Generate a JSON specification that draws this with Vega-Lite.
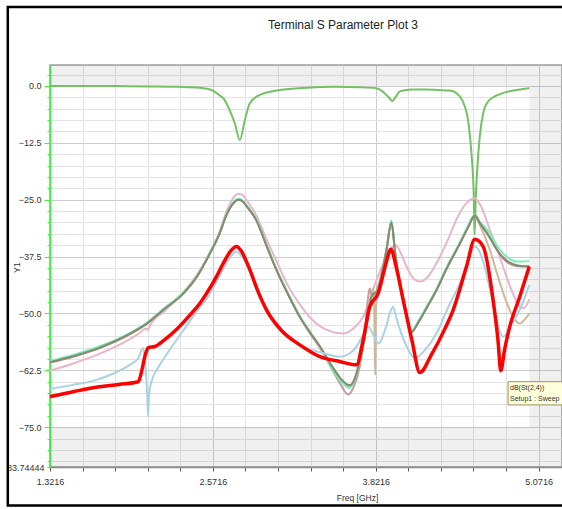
{
  "$schema": "https://vega.github.io/schema/vega-lite/v6.json",
  "width": 512,
  "height": 402,
  "autosize": {"type": "none"},
  "padding": {"left": 50, "top": 65, "right": 0, "bottom": 42},
  "background": "white",
  "title": {"text": "Terminal S Parameter Plot 3", "anchor": "middle", "dx": 37, "offset": -26, "font": "Liberation Sans", "fontSize": 12, "fontWeight": "normal", "color": "#222222"},
  "config": {
    "view": {"fill": "white", "stroke": "#a0a0a0", "strokeWidth": 1.5},
    "font": "Liberation Sans",
    "axis": {"labelOverlap": false, "tickCount": 200}
  },
  "datasets": {
    "curves": [
      {"s":"green","f":1.3216,"db":0.0},{"s":"green","f":1.6,"db":0.0},{"s":"green","f":1.9,"db":-0.05},{"s":"green","f":2.1,"db":-0.1},{"s":"green","f":2.3,"db":-0.2},{"s":"green","f":2.47,"db":-0.4},{"s":"green","f":2.57,"db":-1.0},{"s":"green","f":2.62,"db":-2.0},{"s":"green","f":2.66,"db":-3.0},{"s":"green","f":2.7,"db":-5.3},{"s":"green","f":2.74,"db":-8.2},{"s":"green","f":2.778,"db":-11.9},{"s":"green","f":2.817,"db":-7.5},{"s":"green","f":2.855,"db":-3.8},{"s":"green","f":2.93,"db":-2.0},{"s":"green","f":3.085,"db":-0.9},{"s":"green","f":3.3,"db":-0.4},{"s":"green","f":3.5,"db":-0.2},{"s":"green","f":3.7,"db":-0.3},{"s":"green","f":3.827,"db":-0.5},{"s":"green","f":3.89,"db":-1.6},{"s":"green","f":3.925,"db":-2.6},{"s":"green","f":3.95,"db":-3.3},{"s":"green","f":3.975,"db":-2.4},{"s":"green","f":4.006,"db":-1.2},{"s":"green","f":4.1,"db":-0.8},{"s":"green","f":4.2,"db":-0.8},{"s":"green","f":4.3,"db":-0.9},{"s":"green","f":4.39,"db":-1.0},{"s":"green","f":4.467,"db":-2.3},{"s":"green","f":4.505,"db":-4.5},{"s":"green","f":4.53,"db":-7.5},{"s":"green","f":4.556,"db":-14.8},{"s":"green","f":4.574,"db":-24.3},{"s":"green","f":4.58,"db":-32.7},{"s":"green","f":4.59,"db":-24.0},{"s":"green","f":4.6,"db":-18.5},{"s":"green","f":4.62,"db":-11.1},{"s":"green","f":4.646,"db":-6.0},{"s":"green","f":4.684,"db":-3.4},{"s":"green","f":4.774,"db":-1.8},{"s":"green","f":4.88,"db":-1.0},{"s":"green","f":5.0,"db":-0.5},

      {"s":"pink","f":1.3216,"db":-62.6},{"s":"pink","f":1.5,"db":-61.0},{"s":"pink","f":1.7,"db":-58.9},{"s":"pink","f":1.9,"db":-56.2},{"s":"pink","f":2.0,"db":-54.5},{"s":"pink","f":2.06,"db":-53.3},{"s":"pink","f":2.075,"db":-53.7},{"s":"pink","f":2.09,"db":-52.6},{"s":"pink","f":2.2,"db":-49.5},{"s":"pink","f":2.343,"db":-45.4},{"s":"pink","f":2.45,"db":-41.5},{"s":"pink","f":2.548,"db":-36.6},{"s":"pink","f":2.62,"db":-32.3},{"s":"pink","f":2.676,"db":-27.6},{"s":"pink","f":2.72,"db":-25.0},{"s":"pink","f":2.75,"db":-23.9},{"s":"pink","f":2.773,"db":-23.7},{"s":"pink","f":2.8,"db":-24.0},{"s":"pink","f":2.84,"db":-25.5},{"s":"pink","f":2.906,"db":-28.5},{"s":"pink","f":2.98,"db":-33.5},{"s":"pink","f":3.06,"db":-38.5},{"s":"pink","f":3.15,"db":-44.0},{"s":"pink","f":3.239,"db":-48.0},{"s":"pink","f":3.32,"db":-51.0},{"s":"pink","f":3.393,"db":-52.8},{"s":"pink","f":3.48,"db":-54.0},{"s":"pink","f":3.571,"db":-54.4},{"s":"pink","f":3.65,"db":-53.3},{"s":"pink","f":3.725,"db":-50.7},{"s":"pink","f":3.77,"db":-47.5},{"s":"pink","f":3.801,"db":-44.8},{"s":"pink","f":3.85,"db":-41.0},{"s":"pink","f":3.9,"db":-37.8},{"s":"pink","f":3.94,"db":-35.7},{"s":"pink","f":3.975,"db":-35.0},{"s":"pink","f":4.01,"db":-36.5},{"s":"pink","f":4.06,"db":-39.8},{"s":"pink","f":4.11,"db":-42.3},{"s":"pink","f":4.16,"db":-43.0},{"s":"pink","f":4.22,"db":-42.0},{"s":"pink","f":4.3,"db":-38.3},{"s":"pink","f":4.38,"db":-33.5},{"s":"pink","f":4.45,"db":-28.8},{"s":"pink","f":4.52,"db":-25.7},{"s":"pink","f":4.58,"db":-24.7},{"s":"pink","f":4.63,"db":-26.5},{"s":"pink","f":4.697,"db":-31.6},{"s":"pink","f":4.76,"db":-36.5},{"s":"pink","f":4.825,"db":-41.9},{"s":"pink","f":4.88,"db":-46.0},{"s":"pink","f":4.927,"db":-48.5},{"s":"pink","f":4.96,"db":-48.8},{"s":"pink","f":5.0,"db":-46.9},

      {"s":"tan","f":1.3216,"db":-60.6},{"s":"tan","f":1.5,"db":-59.3},{"s":"tan","f":1.704,"db":-57.4},{"s":"tan","f":1.934,"db":-54.4},{"s":"tan","f":2.062,"db":-52.2},{"s":"tan","f":2.2,"db":-48.9},{"s":"tan","f":2.343,"db":-45.6},{"s":"tan","f":2.45,"db":-41.8},{"s":"tan","f":2.548,"db":-36.8},{"s":"tan","f":2.62,"db":-32.6},{"s":"tan","f":2.676,"db":-28.3},{"s":"tan","f":2.72,"db":-26.0},{"s":"tan","f":2.75,"db":-25.1},{"s":"tan","f":2.773,"db":-24.9},{"s":"tan","f":2.8,"db":-25.3},{"s":"tan","f":2.84,"db":-26.7},{"s":"tan","f":2.906,"db":-29.5},{"s":"tan","f":2.98,"db":-34.8},{"s":"tan","f":3.06,"db":-40.4},{"s":"tan","f":3.15,"db":-45.8},{"s":"tan","f":3.239,"db":-50.7},{"s":"tan","f":3.32,"db":-54.3},{"s":"tan","f":3.393,"db":-57.3},{"s":"tan","f":3.48,"db":-61.5},{"s":"tan","f":3.55,"db":-64.5},{"s":"tan","f":3.622,"db":-66.2},{"s":"tan","f":3.66,"db":-64.5},{"s":"tan","f":3.7,"db":-60.5},{"s":"tan","f":3.725,"db":-57.3},{"s":"tan","f":3.76,"db":-51.0},{"s":"tan","f":3.789,"db":-46.3},{"s":"tan","f":3.803,"db":-44.4},{"s":"tan","f":3.811,"db":-50.0},{"s":"tan","f":3.817,"db":-63.5},{"s":"tan","f":3.823,"db":-50.0},{"s":"tan","f":3.832,"db":-45.5},{"s":"tan","f":3.86,"db":-42.3},{"s":"tan","f":3.88,"db":-39.5},{"s":"tan","f":3.904,"db":-36.0},{"s":"tan","f":3.942,"db":-29.8},{"s":"tan","f":3.97,"db":-36.5},{"s":"tan","f":4.006,"db":-43.4},{"s":"tan","f":4.05,"db":-49.5},{"s":"tan","f":4.096,"db":-54.0},{"s":"tan","f":4.15,"db":-51.8},{"s":"tan","f":4.22,"db":-48.3},{"s":"tan","f":4.288,"db":-44.8},{"s":"tan","f":4.37,"db":-39.8},{"s":"tan","f":4.467,"db":-34.6},{"s":"tan","f":4.53,"db":-31.0},{"s":"tan","f":4.582,"db":-28.4},{"s":"tan","f":4.62,"db":-30.5},{"s":"tan","f":4.697,"db":-36.0},{"s":"tan","f":4.75,"db":-41.0},{"s":"tan","f":4.8,"db":-45.5},{"s":"tan","f":4.87,"db":-50.5},{"s":"tan","f":4.927,"db":-52.2},{"s":"tan","f":4.96,"db":-51.5},{"s":"tan","f":5.0,"db":-50.0},

      {"s":"rose","f":1.3216,"db":-60.8},{"s":"rose","f":1.5,"db":-59.5},{"s":"rose","f":1.704,"db":-57.6},{"s":"rose","f":1.934,"db":-54.6},{"s":"rose","f":2.062,"db":-52.3},{"s":"rose","f":2.2,"db":-48.9},{"s":"rose","f":2.343,"db":-45.6},{"s":"rose","f":2.45,"db":-41.8},{"s":"rose","f":2.548,"db":-36.8},{"s":"rose","f":2.62,"db":-32.6},{"s":"rose","f":2.676,"db":-28.3},{"s":"rose","f":2.72,"db":-26.0},{"s":"rose","f":2.75,"db":-25.1},{"s":"rose","f":2.773,"db":-24.9},{"s":"rose","f":2.8,"db":-25.3},{"s":"rose","f":2.84,"db":-26.7},{"s":"rose","f":2.906,"db":-29.5},{"s":"rose","f":2.98,"db":-34.8},{"s":"rose","f":3.06,"db":-40.4},{"s":"rose","f":3.15,"db":-45.8},{"s":"rose","f":3.239,"db":-50.7},{"s":"rose","f":3.32,"db":-54.5},{"s":"rose","f":3.393,"db":-57.6},{"s":"rose","f":3.48,"db":-62.0},{"s":"rose","f":3.55,"db":-65.5},{"s":"rose","f":3.61,"db":-67.8},{"s":"rose","f":3.65,"db":-66.3},{"s":"rose","f":3.7,"db":-61.5},{"s":"rose","f":3.74,"db":-53.0},{"s":"rose","f":3.766,"db":-45.8},{"s":"rose","f":3.776,"db":-44.5},{"s":"rose","f":3.79,"db":-46.0},{"s":"rose","f":3.81,"db":-45.8},{"s":"rose","f":3.84,"db":-44.0},{"s":"rose","f":3.88,"db":-39.5},{"s":"rose","f":3.904,"db":-36.0},{"s":"rose","f":3.942,"db":-30.0},{"s":"rose","f":3.97,"db":-36.5},{"s":"rose","f":4.006,"db":-43.4},{"s":"rose","f":4.05,"db":-49.5},{"s":"rose","f":4.096,"db":-54.0},{"s":"rose","f":4.15,"db":-51.8},{"s":"rose","f":4.22,"db":-48.3},{"s":"rose","f":4.288,"db":-44.8},{"s":"rose","f":4.37,"db":-39.8},{"s":"rose","f":4.467,"db":-34.6},{"s":"rose","f":4.53,"db":-31.0},{"s":"rose","f":4.582,"db":-28.6},{"s":"rose","f":4.62,"db":-30.2},{"s":"rose","f":4.697,"db":-33.4},{"s":"rose","f":4.75,"db":-36.0},{"s":"rose","f":4.8,"db":-38.0},{"s":"rose","f":4.876,"db":-39.4},{"s":"rose","f":4.95,"db":-39.7},{"s":"rose","f":5.0,"db":-39.7},

      {"s":"mint","f":1.3216,"db":-60.4},{"s":"mint","f":1.5,"db":-59.1},{"s":"mint","f":1.704,"db":-57.2},{"s":"mint","f":1.934,"db":-54.3},{"s":"mint","f":2.062,"db":-52.1},{"s":"mint","f":2.2,"db":-48.8},{"s":"mint","f":2.343,"db":-45.5},{"s":"mint","f":2.45,"db":-41.7},{"s":"mint","f":2.548,"db":-36.7},{"s":"mint","f":2.62,"db":-32.5},{"s":"mint","f":2.676,"db":-28.2},{"s":"mint","f":2.72,"db":-25.9},{"s":"mint","f":2.75,"db":-25.0},{"s":"mint","f":2.773,"db":-24.8},{"s":"mint","f":2.8,"db":-25.2},{"s":"mint","f":2.84,"db":-26.6},{"s":"mint","f":2.906,"db":-29.4},{"s":"mint","f":2.98,"db":-34.7},{"s":"mint","f":3.06,"db":-40.3},{"s":"mint","f":3.15,"db":-45.7},{"s":"mint","f":3.239,"db":-50.6},{"s":"mint","f":3.32,"db":-54.2},{"s":"mint","f":3.393,"db":-57.3},{"s":"mint","f":3.48,"db":-61.8},{"s":"mint","f":3.55,"db":-64.8},{"s":"mint","f":3.622,"db":-66.4},{"s":"mint","f":3.66,"db":-64.5},{"s":"mint","f":3.7,"db":-60.5},{"s":"mint","f":3.725,"db":-57.3},{"s":"mint","f":3.76,"db":-51.0},{"s":"mint","f":3.789,"db":-46.3},{"s":"mint","f":3.84,"db":-44.8},{"s":"mint","f":3.88,"db":-39.5},{"s":"mint","f":3.904,"db":-36.0},{"s":"mint","f":3.942,"db":-29.6},{"s":"mint","f":3.97,"db":-36.3},{"s":"mint","f":4.006,"db":-43.3},{"s":"mint","f":4.05,"db":-49.3},{"s":"mint","f":4.096,"db":-53.8},{"s":"mint","f":4.15,"db":-51.6},{"s":"mint","f":4.22,"db":-48.1},{"s":"mint","f":4.288,"db":-44.6},{"s":"mint","f":4.37,"db":-39.6},{"s":"mint","f":4.467,"db":-34.4},{"s":"mint","f":4.53,"db":-30.8},{"s":"mint","f":4.582,"db":-28.3},{"s":"mint","f":4.62,"db":-29.8},{"s":"mint","f":4.697,"db":-32.4},{"s":"mint","f":4.75,"db":-35.0},{"s":"mint","f":4.799,"db":-36.8},{"s":"mint","f":4.85,"db":-38.0},{"s":"mint","f":4.902,"db":-38.6},{"s":"mint","f":4.95,"db":-38.6},{"s":"mint","f":5.0,"db":-38.5},

      {"s":"olive","f":1.3216,"db":-60.7},{"s":"olive","f":1.5,"db":-59.4},{"s":"olive","f":1.704,"db":-57.5},{"s":"olive","f":1.934,"db":-54.5},{"s":"olive","f":2.062,"db":-52.3},{"s":"olive","f":2.2,"db":-49.0},{"s":"olive","f":2.343,"db":-45.7},{"s":"olive","f":2.45,"db":-41.9},{"s":"olive","f":2.548,"db":-36.9},{"s":"olive","f":2.62,"db":-32.7},{"s":"olive","f":2.676,"db":-28.4},{"s":"olive","f":2.72,"db":-26.1},{"s":"olive","f":2.75,"db":-25.2},{"s":"olive","f":2.773,"db":-25.0},{"s":"olive","f":2.8,"db":-25.4},{"s":"olive","f":2.84,"db":-26.8},{"s":"olive","f":2.906,"db":-29.6},{"s":"olive","f":2.98,"db":-34.9},{"s":"olive","f":3.06,"db":-40.5},{"s":"olive","f":3.15,"db":-45.9},{"s":"olive","f":3.239,"db":-50.8},{"s":"olive","f":3.32,"db":-54.3},{"s":"olive","f":3.393,"db":-57.2},{"s":"olive","f":3.48,"db":-61.3},{"s":"olive","f":3.55,"db":-64.2},{"s":"olive","f":3.622,"db":-65.8},{"s":"olive","f":3.66,"db":-64.3},{"s":"olive","f":3.7,"db":-60.3},{"s":"olive","f":3.725,"db":-57.1},{"s":"olive","f":3.76,"db":-50.8},{"s":"olive","f":3.789,"db":-46.3},{"s":"olive","f":3.84,"db":-44.8},{"s":"olive","f":3.88,"db":-39.6},{"s":"olive","f":3.904,"db":-36.1},{"s":"olive","f":3.942,"db":-30.0},{"s":"olive","f":3.97,"db":-36.6},{"s":"olive","f":4.006,"db":-43.5},{"s":"olive","f":4.05,"db":-49.6},{"s":"olive","f":4.096,"db":-54.1},{"s":"olive","f":4.15,"db":-51.9},{"s":"olive","f":4.22,"db":-48.4},{"s":"olive","f":4.288,"db":-44.9},{"s":"olive","f":4.37,"db":-39.9},{"s":"olive","f":4.467,"db":-34.7},{"s":"olive","f":4.53,"db":-31.1},{"s":"olive","f":4.582,"db":-28.5},{"s":"olive","f":4.62,"db":-30.1},{"s":"olive","f":4.697,"db":-33.3},{"s":"olive","f":4.75,"db":-35.9},{"s":"olive","f":4.8,"db":-37.7},{"s":"olive","f":4.876,"db":-39.2},{"s":"olive","f":4.95,"db":-39.6},{"s":"olive","f":5.0,"db":-39.6},

      {"s":"blue","f":1.3216,"db":-66.6},{"s":"blue","f":1.5,"db":-65.7},{"s":"blue","f":1.678,"db":-64.6},{"s":"blue","f":1.8,"db":-63.3},{"s":"blue","f":1.934,"db":-61.3},{"s":"blue","f":2.0,"db":-59.8},{"s":"blue","f":2.036,"db":-57.6},{"s":"blue","f":2.055,"db":-62.0},{"s":"blue","f":2.068,"db":-68.0},{"s":"blue","f":2.074,"db":-72.7},{"s":"blue","f":2.082,"db":-68.0},{"s":"blue","f":2.1,"db":-65.0},{"s":"blue","f":2.15,"db":-62.0},{"s":"blue","f":2.216,"db":-59.0},{"s":"blue","f":2.343,"db":-53.8},{"s":"blue","f":2.45,"db":-49.5},{"s":"blue","f":2.523,"db":-46.8},{"s":"blue","f":2.6,"db":-43.0},{"s":"blue","f":2.65,"db":-40.3},{"s":"blue","f":2.7,"db":-37.8},{"s":"blue","f":2.753,"db":-36.4},{"s":"blue","f":2.79,"db":-37.3},{"s":"blue","f":2.85,"db":-40.5},{"s":"blue","f":2.92,"db":-45.6},{"s":"blue","f":2.983,"db":-49.4},{"s":"blue","f":3.1,"db":-54.0},{"s":"blue","f":3.239,"db":-57.0},{"s":"blue","f":3.393,"db":-58.5},{"s":"blue","f":3.545,"db":-59.5},{"s":"blue","f":3.62,"db":-58.8},{"s":"blue","f":3.674,"db":-57.3},{"s":"blue","f":3.72,"db":-55.0},{"s":"blue","f":3.763,"db":-52.9},{"s":"blue","f":3.8,"db":-54.5},{"s":"blue","f":3.84,"db":-56.6},{"s":"blue","f":3.9,"db":-53.0},{"s":"blue","f":3.935,"db":-49.5},{"s":"blue","f":3.955,"db":-48.5},{"s":"blue","f":3.975,"db":-50.5},{"s":"blue","f":4.0,"db":-52.9},{"s":"blue","f":4.06,"db":-57.3},{"s":"blue","f":4.121,"db":-59.8},{"s":"blue","f":4.2,"db":-58.0},{"s":"blue","f":4.288,"db":-54.4},{"s":"blue","f":4.38,"db":-48.5},{"s":"blue","f":4.467,"db":-43.4},{"s":"blue","f":4.53,"db":-38.5},{"s":"blue","f":4.582,"db":-35.3},{"s":"blue","f":4.62,"db":-36.5},{"s":"blue","f":4.65,"db":-39.0},{"s":"blue","f":4.7,"db":-45.0},{"s":"blue","f":4.75,"db":-51.5},{"s":"blue","f":4.799,"db":-55.1},{"s":"blue","f":4.86,"db":-52.5},{"s":"blue","f":4.927,"db":-49.2},{"s":"blue","f":5.0,"db":-43.7},

      {"s":"red","f":1.3216,"db":-68.3},{"s":"red","f":1.5,"db":-67.2},{"s":"red","f":1.678,"db":-66.2},{"s":"red","f":1.85,"db":-65.6},{"s":"red","f":2.0,"db":-65.0},{"s":"red","f":2.024,"db":-62.8},{"s":"red","f":2.049,"db":-59.5},{"s":"red","f":2.074,"db":-57.6},{"s":"red","f":2.087,"db":-57.4},{"s":"red","f":2.12,"db":-57.3},{"s":"red","f":2.2,"db":-55.8},{"s":"red","f":2.3,"db":-53.3},{"s":"red","f":2.4,"db":-50.2},{"s":"red","f":2.471,"db":-47.8},{"s":"red","f":2.523,"db":-45.6},{"s":"red","f":2.599,"db":-41.9},{"s":"red","f":2.66,"db":-38.5},{"s":"red","f":2.71,"db":-36.2},{"s":"red","f":2.753,"db":-35.3},{"s":"red","f":2.79,"db":-36.3},{"s":"red","f":2.85,"db":-40.0},{"s":"red","f":2.92,"db":-45.3},{"s":"red","f":2.983,"db":-49.2},{"s":"red","f":3.1,"db":-53.8},{"s":"red","f":3.239,"db":-56.9},{"s":"red","f":3.393,"db":-59.5},{"s":"red","f":3.55,"db":-60.6},{"s":"red","f":3.674,"db":-61.3},{"s":"red","f":3.725,"db":-55.8},{"s":"red","f":3.776,"db":-48.5},{"s":"red","f":3.84,"db":-45.6},{"s":"red","f":3.9,"db":-39.0},{"s":"red","f":3.937,"db":-35.9},{"s":"red","f":3.98,"db":-40.0},{"s":"red","f":4.032,"db":-47.0},{"s":"red","f":4.1,"db":-56.0},{"s":"red","f":4.16,"db":-63.0},{"s":"red","f":4.25,"db":-59.0},{"s":"red","f":4.35,"db":-53.5},{"s":"red","f":4.416,"db":-49.2},{"s":"red","f":4.518,"db":-39.7},{"s":"red","f":4.582,"db":-33.7},{"s":"red","f":4.646,"db":-35.3},{"s":"red","f":4.722,"db":-47.0},{"s":"red","f":4.76,"db":-56.0},{"s":"red","f":4.781,"db":-62.6},{"s":"red","f":4.81,"db":-58.0},{"s":"red","f":4.85,"db":-52.9},{"s":"red","f":4.927,"db":-46.3},{"s":"red","f":5.0,"db":-39.7}
    ]
  },
  "layer": [
    {
      "data": {"values": [{}]},
      "mark": {"type": "rect", "fill": "#000000", "opacity": 0.06},
      "encoding": {
        "x": {"datum": 1.3216, "type": "quantitative", "scale": {"domain": [1.3216, 5.251], "nice": false, "zero": false}, "axis": {
          "title": "Freq [GHz]",
          "values": [1.3216, 1.5716, 1.8216, 2.0716, 2.3216, 2.5716, 2.8216, 3.0716, 3.3216, 3.5716, 3.8216, 4.0716, 4.3216, 4.5716, 4.8216, 5.0716],
          "tickCount": 200,
          "labelExpr": "indexof([1.3216, 2.5716, 3.8216, 5.0716], datum.value) >= 0 ? format(datum.value, '.4f') : ''",
          "labelOverlap": false, "labelFlush": false, "labelBound": false,
          "labelFontSize": 9, "labelColor": "#333333", "labelPadding": 6,
          "domainColor": "#8c8c8c", "domainWidth": 1.5, "tickColor": "#555555", "tickSize": 4,
          "grid": true, "gridColor": {"condition": {"test": "indexof([1.3216, 2.5716, 3.8216, 5.0716], datum.value) >= 0", "value": "#cdcdcd"}, "value": "#e3e3e3"},
          "titleFontSize": 8.5, "titleFontWeight": "normal", "titleColor": "#333333", "titleX": 307, "titleY": 30, "titleBaseline": "middle", "titleAlign": "center"
        }},
        "x2": {"datum": 5.251},
        "y": {"datum": 0, "type": "quantitative", "scale": {"domain": [-83.74444, 4.6], "nice": false, "zero": false}, "axis": {
          "title": "Y1",
          "values": [2.5, 0, -2.5, -5, -7.5, -10, -12.5, -15, -17.5, -20, -22.5, -25, -27.5, -30, -32.5, -35, -37.5, -40, -42.5, -45, -47.5, -50, -52.5, -55, -57.5, -60, -62.5, -65, -67.5, -70, -72.5, -75, -77.5, -80, -82.5, -83.74444],
          "tickCount": 200,
          "labelExpr": "datum.value == -83.74444 ? '83.74444' : (datum.value % 12.5 == 0 ? format(datum.value, '.1f') : '')",
          "labelOverlap": false, "labelFlush": false, "labelBound": false,
          "labelFontSize": 9, "labelColor": "#333333", "labelPadding": 3,
          "domainColor": "#44ee44", "domainWidth": 1.5, "tickColor": "#44ee44",
          "tickSize": {"condition": {"test": "datum.value % 12.5 == 0", "value": 6}, "value": 3},
          "grid": true, "gridColor": {"condition": {"test": "datum.value % 12.5 == 0", "value": "#cdcdcd"}, "value": "#e3e3e3"},
          "titleFontSize": 9, "titleFontWeight": "normal", "titleColor": "#333333", "titleX": -34, "titleY": 202, "titleBaseline": "middle", "titleAlign": "center"
        }},
        "y2": {"datum": 4.6}
      }
    },
    {
      "data": {"values": [{}]},
      "mark": {"type": "rect", "fill": "#000000", "opacity": 0.06},
      "encoding": {
        "x": {"datum": 1.3216, "type": "quantitative"},
        "x2": {"datum": 5.251},
        "y": {"datum": -83.74444, "type": "quantitative"},
        "y2": {"datum": -75}
      }
    },
    {
      "data": {"values": [{}]},
      "mark": {"type": "rect", "fill": "#000000", "opacity": 0.06},
      "encoding": {
        "x": {"datum": 5.0, "type": "quantitative"},
        "x2": {"datum": 5.251},
        "y": {"datum": -75, "type": "quantitative"},
        "y2": {"datum": 0}
      }
    },
    {
      "data": {"name": "curves"},
      "transform": [{"filter": "datum.s != 'red'"}],
      "mark": {"type": "line", "strokeWidth": 2, "interpolate": "monotone"},
      "encoding": {
        "x": {"field": "f", "type": "quantitative"},
        "y": {"field": "db", "type": "quantitative"},
        "color": {"field": "s", "type": "nominal", "legend": null, "scale": {"domain": ["green", "pink", "tan", "rose", "mint", "olive", "blue", "red"], "range": ["#74c163", "#e8b6cb", "#cdb89c", "#c99a9c", "#74f0b8", "#858a6e", "#a9d2e2", "#ff0000"]}}
      }
    },
    {
      "data": {"name": "curves"},
      "transform": [{"filter": "datum.s == 'red'"}],
      "mark": {"type": "line", "strokeWidth": 3.5, "interpolate": "monotone"},
      "encoding": {
        "x": {"field": "f", "type": "quantitative"},
        "y": {"field": "db", "type": "quantitative"},
        "color": {"field": "s", "type": "nominal", "legend": null}
      }
    },
    {
      "data": {"values": [{}]},
      "mark": {"type": "rect", "fill": "#ffffdc", "stroke": "#9a9060", "strokeWidth": 1},
      "encoding": {
        "x": {"datum": 4.837, "type": "quantitative"},
        "x2": {"datum": 5.4},
        "y": {"datum": -65.0, "type": "quantitative"},
        "y2": {"datum": -70.1}
      }
    },
    {
      "data": {"values": [{}]},
      "mark": {"type": "text", "text": "dB(St(2,4))", "align": "left", "baseline": "middle", "fontSize": 7, "color": "#333333", "dx": 2},
      "encoding": {
        "x": {"datum": 4.837, "type": "quantitative"},
        "y": {"datum": -66.4, "type": "quantitative"}
      }
    },
    {
      "data": {"values": [{}]},
      "mark": {"type": "text", "text": "Setup1 : Sweep", "align": "left", "baseline": "middle", "fontSize": 7, "color": "#333333", "dx": 2},
      "encoding": {
        "x": {"datum": 4.837, "type": "quantitative"},
        "y": {"datum": -68.9, "type": "quantitative"}
      }
    },
    {
      "data": {"values": [{}]},
      "mark": {"type": "rect", "filled": false, "stroke": "#000000", "strokeWidth": 2.5},
      "encoding": {
        "x": {"datum": 0.9977, "type": "quantitative"},
        "x2": {"datum": 5.6},
        "y": {"datum": 17.36, "type": "quantitative"},
        "y2": {"datum": -92.2}
      }
    }
  ]
}
